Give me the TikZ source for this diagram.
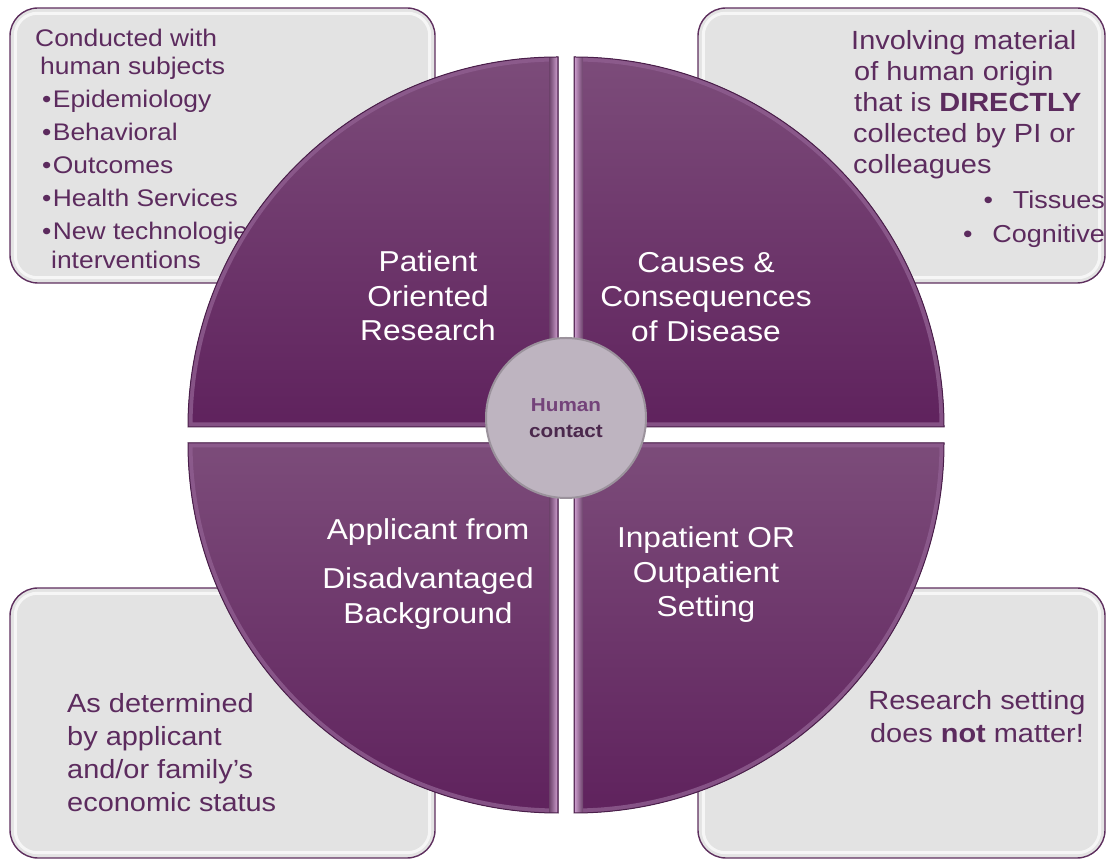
\documentclass[tikz,border=0pt]{standalone}
\usepackage{fontspec}
\setmainfont[FakeStretch=1.1]{Liberation Sans}
\usetikzlibrary{calc}
\definecolor{plum}{HTML}{5C2B5E}
\definecolor{boxfill}{HTML}{E3E3E3}
\definecolor{boxedge}{HTML}{5E2F5E}
\definecolor{quadtop}{HTML}{7C4C7A}
\definecolor{quadbot}{HTML}{5F225D}
\definecolor{quadrim}{HTML}{8F5E90}
\definecolor{quadedge}{HTML}{4A1E4A}
\definecolor{bevel}{HTML}{E5B0E6}
\definecolor{hubfill}{HTML}{BEB4C0}
\definecolor{hubedge}{HTML}{9B929C}
\definecolor{humanc}{HTML}{74437A}
\definecolor{contactc}{HTML}{4B284D}

\begin{document}
\begin{tikzpicture}[x=1pt,y=1pt]
  \tikzstyle{infobox}  = [rectangle,rounded corners=28pt,draw=boxedge,line width=1.4pt,fill=boxfill]
  \tikzstyle{boxtext}  = [text=plum,inner sep=0pt,align=left]
  \tikzstyle{quadtext} = [text=white,align=center,font=\fontsize{28.8}{34.5}\selectfont]
  \tikzstyle{hub}      = [circle,minimum size=160pt,fill=hubfill,draw=hubedge,line width=2pt,
                          align=center,font=\bfseries\fontsize{18.8}{26}\selectfont]
  \useasboundingbox (0,0) rectangle (1106,859);
  % side boxes
  \path (222.5,713.5) node[infobox,minimum width=425pt,minimum height=275pt] (bTL) {};
  \path (901.5,713.5) node[infobox,minimum width=407pt,minimum height=275pt] (bTR) {};
  \path (222.5,136)   node[infobox,minimum width=425pt,minimum height=270pt] (bBL) {};
  \path (901.5,136)   node[infobox,minimum width=407pt,minimum height=270pt] (bBR) {};
  \foreach \b in {bTL,bTR,bBL,bBR}
    \draw[white,line width=3pt,opacity=0.7,rounded corners=22pt]
      ($(\b.south west)+(6,6)$) rectangle ($(\b.north east)+(-6,-6)$);
  \path (35,830) node[boxtext,anchor=north west,font=\fontsize{24}{28}\selectfont] (tPOR)
    {Conducted with\\\hspace{5pt}human subjects\\[5pt]
     \hspace{7pt}•\hspace{1.5pt}Epidemiology\\[5pt]\hspace{7pt}•\hspace{1.5pt}Behavioral\\[5pt]
     \hspace{7pt}•\hspace{1.5pt}Outcomes\\[5pt]\hspace{7pt}•\hspace{1.5pt}Health Services\\[5pt]
     \hspace{7pt}•\hspace{1.5pt}New technologies\\[1pt]\hspace{16pt}interventions};
  \path (851,829) node[boxtext,anchor=north west,font=\fontsize{26.3}{31}\selectfont] (tCCD)
    {Involving material\\\hspace{3pt}of human origin\\\hspace{3pt}that is \textbf{DIRECTLY}\\
     \hspace{2pt}collected by PI or\\\hspace{2pt}colleagues};
  \path (1105,668) node[boxtext,anchor=north east,align=right,font=\fontsize{24.5}{34}\selectfont] (tCCDb)
    {•\hspace{20pt}Tissues\\•\hspace{20pt}Cognitive};
  \path (67,166) node[boxtext,anchor=north west,font=\fontsize{26.3}{33}\selectfont] (tADB)
    {As determined\\by applicant\\and/or family’s\\economic status};
  \path (977,142) node[boxtext,align=center,font=\fontsize{26.3}{33}\selectfont] (tIOS)
    {Research setting\\does \textbf{not} matter!};
  % quadrants
  \def\qTL{(558,432) -- (188,432) arc (180:90:370) -- cycle}
  \def\qTR{(574,432) -- (574,802) arc (90:0:370) -- cycle}
  \def\qBL{(558,416) -- (558,46) arc (270:180:370) -- cycle}
  \def\qBR{(574,416) -- (944,416) arc (0:-90:370) -- cycle}
  \foreach \q/\sx/\lc/\rc in {\qTL/549/quadtop/bevel,\qTR/575/bevel/quadtop,
                               \qBL/549/quadtop/bevel,\qBR/575/bevel/quadtop} {
    \fill[top color=quadtop,bottom color=quadbot] \q;
    \begin{scope}
      \clip \q;
      \draw[quadrim,line width=9pt,opacity=0.8] \q;
      \fill[left color=\lc,right color=\rc,opacity=0.85] (\sx,30) rectangle ({\sx+8},830);
    \end{scope}
    \draw[quadedge,line width=1pt] \q;
  }
  \path (428,563) node[quadtext] (lPOR) {Patient\\Oriented\\Research};
  \path (706,562) node[quadtext] (lCCD) {Causes \&\\Consequences\\of Disease};
  \path (428,285) node[quadtext] (lADB) {Applicant from\\[15pt]Disadvantaged\\Background};
  \path (706,284) node[quadtext] (lIOS) {Inpatient OR\\Outpatient\\Setting};
  % centre
  \path (566,441) node[hub] (hub) {\textcolor{humanc}{Human}\\\textcolor{contactc}{contact}};
\end{tikzpicture}
\end{document}
